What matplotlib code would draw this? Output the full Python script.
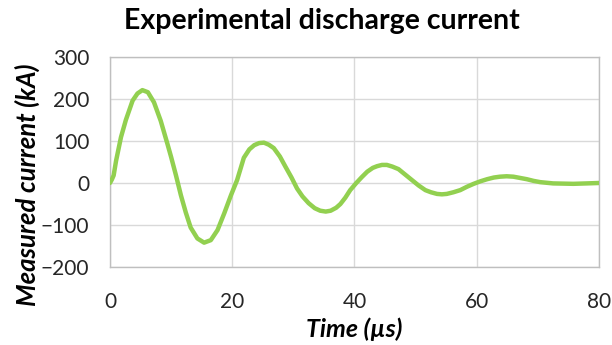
import matplotlib
matplotlib.use('Agg')
import numpy as np
import matplotlib.pyplot as plt

# Values (time in us, current in kA)
time_us = [0.0, 0.3, 0.6, 1.0, 1.8, 2.6, 3.7, 4.5, 5.3, 6.2, 7.2, 8.3, 9.4, 10.0,
           10.8, 11.6, 12.4, 13.2, 14.3, 15.4, 16.5, 17.6, 18.7, 19.8, 20.8, 21.9,
           22.8, 23.6, 24.4, 25.2, 26.0, 26.8, 27.8, 28.7, 29.7, 30.6, 31.5, 32.5,
           33.5, 34.4, 35.3, 36.1, 37.0, 37.7, 38.5, 39.3, 40.3, 41.2, 42.1, 43.0,
           43.7, 44.5, 45.3, 46.2, 47.2, 48.3, 49.4, 50.5, 51.6, 52.5, 53.5, 54.3,
           55.1, 56.2, 57.3, 58.4, 59.5, 60.6, 61.7, 62.8, 63.8, 64.9, 66.0, 67.1,
           68.2, 69.3, 70.4, 72.5, 75.8, 78.0, 80.0]
current_kA = [0, 8, 18, 53, 109, 150, 196, 213, 221, 216, 192, 148, 93, 62,
              18, -29, -70, -106, -132, -142, -136, -112, -72, -29, 7, 60,
              80, 90, 95, 96, 91, 83, 63, 39, 13, -13, -32, -48,
              -60, -66, -68, -66, -59, -50, -35, -17, 0, 14, 27, 36,
              40, 43, 43, 39, 33, 20, 7, -6, -17, -22, -26, -27,
              -26, -22, -17, -9, -2, 4, 9, 13, 15, 16, 15, 12,
              9, 5, 2, -1, -2, -1, 0]

x_ticks = [0, 20, 40, 60, 80]
y_ticks = [-200, -100, 0, 100, 200, 300]

plt.rcParams['font.family'] = ['Lato', 'DejaVu Sans']

fig = plt.figure(figsize=(6.12, 3.45), dpi=100)
ax = fig.add_axes([0.1797, 0.226, 0.799, 0.609])

ax.plot(time_us, current_kA, color='#92D050', linewidth=3.2,
        solid_capstyle='round', solid_joinstyle='round', zorder=3)

ax.set_xlim(0, 80)
ax.set_ylim(-200, 300)
ax.set_xticks(x_ticks)
ax.set_yticks(y_ticks)
ax.grid(True, color='#D9D9D9', linewidth=1.0)
ax.set_axisbelow(True)
for s in ax.spines.values():
    s.set_color('#BFBFBF')
    s.set_linewidth(1.0)
ax.tick_params(length=0, labelsize=15, colors='#262626')
ax.tick_params(axis='x', pad=18)
ax.tick_params(axis='y', pad=15)

ax.set_xlabel('Time (µs)', fontsize=18, fontweight='bold', fontstyle='italic')
ax.set_ylabel('Measured current (kA)', fontsize=18.5, fontweight='bold', fontstyle='italic')
ax.xaxis.set_label_coords(0.499, -0.24)
ax.yaxis.set_label_coords(-0.143, 0.39)
fig.text(0.526, 0.94, 'Experimental discharge current', ha='center', va='center',
         fontsize=20.5, fontweight='bold')

plt.savefig('out.png', dpi=100)
